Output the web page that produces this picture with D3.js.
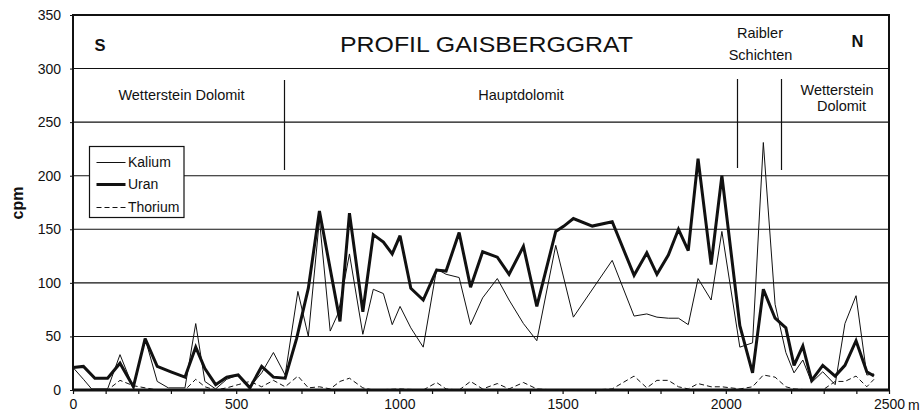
<!DOCTYPE html>
<html>
<head>
<meta charset="utf-8">
<script src="https://cdn.jsdelivr.net/npm/d3@7"></script>
<style>
  body { margin: 0; background: #fff; }
  svg { font-family: "Liberation Sans", Arial, sans-serif; display: block; }
</style>
</head>
<body>
<svg id="chart" width="922" height="414"></svg>
<script>
// distances in m along the profile, counts in cpm
const uranDist = [0, 32, 67, 106, 144, 185, 221, 258, 300, 343, 376, 404, 437, 471, 506, 542, 578, 614, 650, 685,
    721, 755, 818, 847, 888, 920, 951, 978, 1002, 1035, 1073, 1114, 1143, 1183, 1218, 1255, 1300, 1336, 1380, 1421,
    1479, 1504, 1533, 1591, 1652, 1719, 1758, 1789, 1824, 1855, 1885, 1915, 1955, 1988, 2043, 2082, 2115, 2151, 2184,
    2209, 2236, 2263, 2297, 2335, 2365, 2399, 2432, 2454];
const uranVal = [21, 22, 11, 11, 25, 3, 48, 22, 17, 12, 40, 20, 5, 12, 14, 2, 22, 12, 11, 48,
    95, 167, 64, 165, 73, 145, 138, 127, 144, 95, 84, 112, 111, 147, 96, 129, 124, 108, 134, 78,
    148, 153, 160, 153, 157, 107, 128, 108, 126, 150, 130, 216, 117, 200, 60, 16, 94, 67, 58,
    23, 41, 9, 23, 13, 23, 46, 17, 13];

const kaliumDist = [0, 32, 57, 106, 144, 185, 221, 258, 292, 343, 376, 404, 437, 471, 506, 542, 578, 614, 650, 689,
    721, 755, 788, 813, 847, 888, 920, 951, 978, 1002, 1035, 1073, 1114, 1143, 1183, 1218, 1255, 1300, 1336, 1380,
    1421, 1479, 1533, 1652, 1719, 1758, 1789, 1824, 1855, 1885, 1915, 1955, 1988, 2043, 2082, 2115, 2151, 2184, 2209,
    2236, 2263, 2297, 2335, 2365, 2399, 2432, 2454];
const kaliumVal = [21, 10, 1, 1, 33, 2, 48, 8, 2, 2, 62, 8, 1, 10, 14, 3, 16, 35, 14, 92,
    50, 159, 55, 72, 127, 52, 94, 90, 61, 78, 58, 40, 113, 108, 105, 61, 86, 104, 84, 62,
    46, 135, 68, 121, 69, 71, 68, 67, 67, 61, 104, 84, 148, 40, 44, 231, 80, 35, 16,
    28, 7, 17, 5, 62, 88, 14, 15];

const thoriumDist = [0, 106, 144, 185, 221, 258, 343, 376, 404, 437, 471, 506, 542, 578, 614, 650, 689, 721, 755, 788,
    818, 847, 888, 920, 1002, 1073, 1114, 1143, 1183, 1218, 1255, 1300, 1336, 1380, 1421, 1479, 1591, 1652, 1719, 1758,
    1789, 1824, 1855, 1885, 1915, 1955, 1988, 2043, 2082, 2115, 2151, 2184, 2209, 2263, 2297, 2335, 2365, 2399, 2432, 2454];
const thoriumVal = [0, 0, 9, 4, 2, 0, 0, 10, 3, 0, 2, 5, 8, 3, 9, 3, 13, 2, 3, 1,
    8, 11, 2, 0, 1, 0, 7, 1, 0, 8, 1, 6, 1, 7, 1, 0, 0, 1, 13, 2,
    9, 9, 3, 1, 6, 3, 3, 1, 3, 14, 12, 3, 1, 0, 0, 8, 8, 13, 3, 10];

const yTicks = [0, 50, 100, 150, 200, 250, 300, 350];
const xLabelTicks = [0, 500, 1000, 1500, 2000, 2500];
const xMinorTicks = d3.range(0, 2501, 100);

const seriesNames = ["Kalium", "Uran", "Thorium"];

const ink = "#111";
const plot = {"left": 73, "right": 889, "top": 15, "bottom": 390};

const svg = d3.select("#chart");

const x = d3.scaleLinear().domain([0, 2500]).range([plot.left, plot.right]);
const y = d3.scaleLinear().domain([0, 350]).range([plot.bottom, plot.top]);

// gridlines
svg.append("g").selectAll("line")
    .data(yTicks.filter(d => d > 0 && d < 350))
    .enter().append("line")
    .attr("x1", plot.left).attr("x2", plot.right)
    .attr("y1", d => y(d)).attr("y2", d => y(d))
    .attr("stroke", ink).attr("stroke-width", 1.1);

// y axis
const yAxis = svg.append("g")
    .attr("transform", `translate(${plot.left},0)`)
    .call(d3.axisLeft(y).tickValues(yTicks).tickSize(3).tickPadding(9));
yAxis.select(".domain").remove();
yAxis.selectAll("line").attr("stroke", ink);
yAxis.selectAll("text").attr("font-size", 14).attr("fill", ink)
    .attr("font-family", "'Liberation Sans', Arial, sans-serif");

// x axis minor ticks
const xMinor = svg.append("g")
    .attr("transform", `translate(0,${plot.bottom})`)
    .call(d3.axisBottom(x).tickValues(xMinorTicks).tickSize(4).tickFormat(""));
xMinor.select(".domain").remove();
xMinor.selectAll("line").attr("stroke", ink).attr("stroke-width", 1.2);

// x axis labels
const xLab = svg.append("g")
    .attr("transform", `translate(0,${plot.bottom})`)
    .call(d3.axisBottom(x).tickValues(xLabelTicks).tickSize(0).tickPadding(9).tickFormat(d3.format("d")));
xLab.select(".domain").remove();
xLab.selectAll("text").attr("font-size", 14).attr("fill", ink)
    .attr("font-family", "'Liberation Sans', Arial, sans-serif");

svg.append("text")
    .attr("x", x(2500) + 19).attr("y", plot.bottom + 20)
    .attr("font-size", 14).attr("fill", ink)
    .text("m");

// y title
svg.append("text")
    .attr("transform", "translate(23,203) rotate(-90)")
    .attr("text-anchor", "middle")
    .attr("font-size", 16).attr("font-weight", "bold").attr("fill", ink)
    .text("cpm");

// frame
svg.append("rect")
    .attr("x", plot.left).attr("y", plot.top)
    .attr("width", plot.right - plot.left).attr("height", plot.bottom - plot.top)
    .attr("fill", "none").attr("stroke", ink).attr("stroke-width", 2);
svg.append("line")
    .attr("x1", plot.left).attr("x2", plot.right)
    .attr("y1", plot.bottom).attr("y2", plot.bottom)
    .attr("stroke", ink).attr("stroke-width", 3);

// formation dividers
const dividers = [{"x": 284.5, "y1": 80, "y2": 170}, {"x": 737.5, "y1": 79, "y2": 168}, {"x": 781.5, "y1": 79, "y2": 170}];
svg.append("g").selectAll("line")
    .data(dividers)
    .enter().append("line")
    .attr("x1", d => d.x).attr("x2", d => d.x)
    .attr("y1", d => d.y1).attr("y2", d => d.y2)
    .attr("stroke", ink).attr("stroke-width", 1.2);

// texts in the plot
svg.append("text")
    .attr("x", 486.5).attr("y", 52)
    .attr("text-anchor", "middle")
    .attr("font-size", 22).attr("fill", ink)
    .attr("textLength", 293).attr("lengthAdjust", "spacingAndGlyphs")
    .text("PROFIL GAISBERGGRAT");

svg.append("text").attr("x", 100).attr("y", 51).attr("text-anchor", "middle")
    .attr("font-size", 16.5).attr("font-weight", "bold").attr("fill", ink).text("S");
svg.append("text").attr("x", 857.5).attr("y", 47).attr("text-anchor", "middle")
    .attr("font-size", 16.5).attr("font-weight", "bold").attr("fill", ink).text("N");

const labels = [
    {"x": 181.5, "y": 100, "t": "Wetterstein Dolomit"},
    {"x": 521, "y": 100, "t": "Hauptdolomit"},
    {"x": 760, "y": 37.5, "t": "Raibler"},
    {"x": 760.5, "y": 59.5, "t": "Schichten"},
    {"x": 837, "y": 94.5, "t": "Wetterstein"},
    {"x": 841.5, "y": 111, "t": "Dolomit"}
];
svg.append("g").selectAll("text")
    .data(labels)
    .enter().append("text")
    .attr("x", d => d.x).attr("y", d => d.y)
    .attr("text-anchor", "middle")
    .attr("font-size", 14.5).attr("fill", ink)
    .text(d => d.t);

// series lines
const line = d3.line().x(d => x(d[0])).y(d => y(d[1]));

svg.append("path")
    .datum(d3.zip(thoriumDist, thoriumVal))
    .attr("d", line)
    .attr("fill", "none").attr("stroke", ink).attr("stroke-width", 1)
    .attr("stroke-dasharray", "5,3");

svg.append("path")
    .datum(d3.zip(kaliumDist, kaliumVal))
    .attr("d", line)
    .attr("fill", "none").attr("stroke", ink).attr("stroke-width", 1);

svg.append("path")
    .datum(d3.zip(uranDist, uranVal))
    .attr("d", line)
    .attr("fill", "none").attr("stroke", ink).attr("stroke-width", 3)
    .attr("stroke-linejoin", "miter").attr("stroke-miterlimit", 3);

// legend
const legend = svg.append("g");
legend.append("rect")
    .attr("x", 89.5).attr("y", 146.5).attr("width", 94.5).attr("height", 71)
    .attr("fill", "#fff").attr("stroke", ink).attr("stroke-width", 1.2);

const legendStyle = [
    {"w": 1, "dash": null, "y": 162.5},
    {"w": 3, "dash": null, "y": 184.5},
    {"w": 1, "dash": "5,3", "y": 207.5}
];
seriesNames.forEach((name, i) => {
    const s = legendStyle[i];
    legend.append("line")
        .attr("x1", 96.5).attr("x2", 125.5)
        .attr("y1", s.y).attr("y2", s.y)
        .attr("stroke", ink).attr("stroke-width", s.w)
        .attr("stroke-dasharray", s.dash);
    legend.append("text")
        .attr("x", 128).attr("y", s.y + 4.8)
        .attr("font-size", 14).attr("fill", ink)
        .text(name);
});
</script>
</body>
</html>
